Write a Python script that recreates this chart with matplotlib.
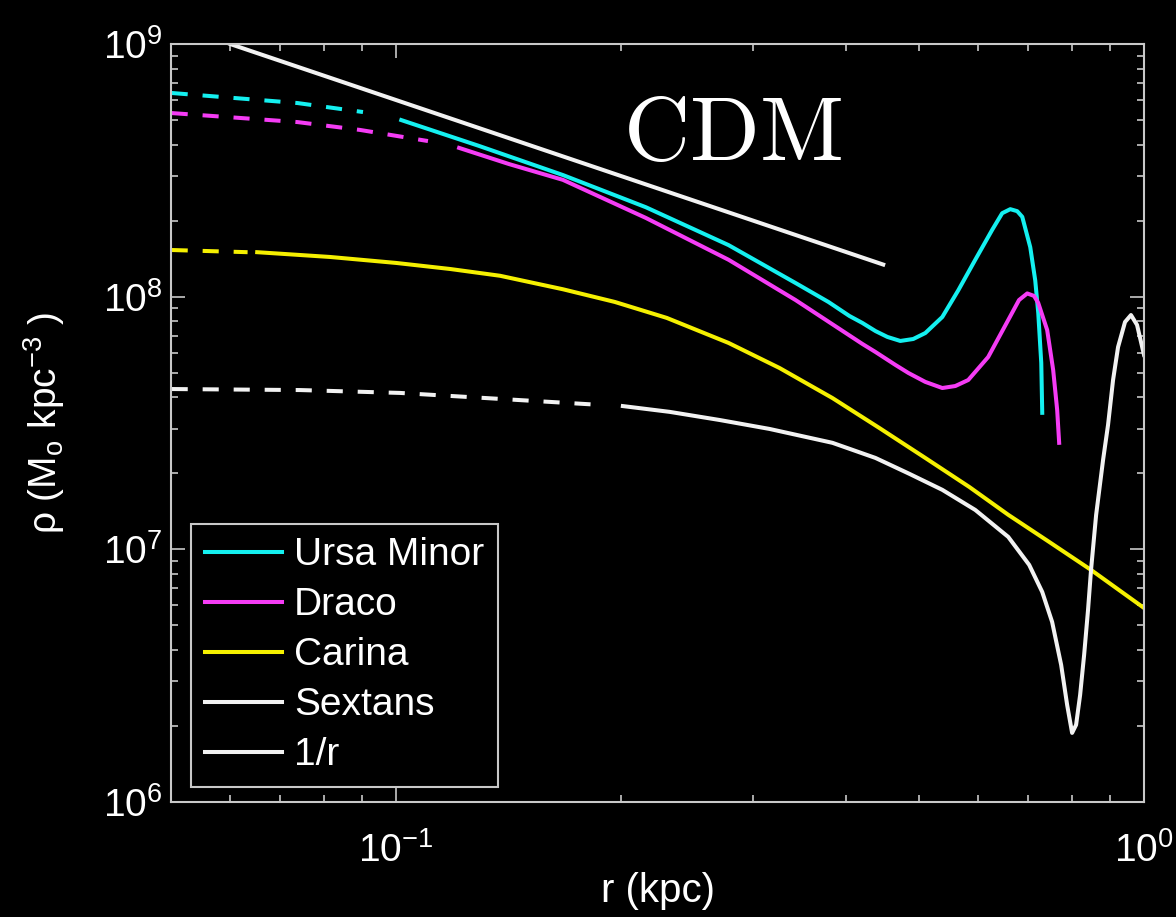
import matplotlib.pyplot as plt
from matplotlib.ticker import NullFormatter

plt.rcParams['font.family'] = ['Liberation Sans', 'DejaVu Sans']
plt.rcParams['mathtext.fontset'] = 'custom'
plt.rcParams['mathtext.rm'] = 'Liberation Sans'
plt.rcParams['mathtext.it'] = 'Liberation Sans:italic'
plt.rcParams['mathtext.default'] = 'regular'

# Ursa Minor (dashed inner part, solid outer part)
umi_r_dash = [0.0501, 0.0738, 0.0903]
umi_rho_dash = [6.40e8, 5.84e8, 5.38e8]
umi_r = [0.1016, 0.1291, 0.1671, 0.2157, 0.2783, 0.3420, 0.3785, 0.4037, 0.4202,
         0.4375, 0.4538, 0.4722, 0.4914, 0.5100, 0.5374, 0.5645, 0.5948, 0.6267,
         0.6462, 0.6625, 0.6768, 0.6874, 0.7045, 0.7154, 0.7221, 0.7288, 0.7310]
umi_rho = [5.00e8, 3.95e8, 3.03e8, 2.26e8, 1.60e8, 1.133e8, 9.53e7, 8.39e7, 7.87e7,
           7.31e7, 6.93e7, 6.68e7, 6.80e7, 7.18e7, 8.31e7, 1.06e8, 1.40e8, 1.84e8,
           2.14e8, 2.22e8, 2.18e8, 2.07e8, 1.57e8, 1.16e8, 8.62e7, 5.47e7, 3.47e7]

# Draco
dra_r_dash = [0.0501, 0.0738, 0.0895, 0.1103]
dra_rho_dash = [5.33e8, 4.91e8, 4.57e8, 4.13e8]
dra_r = [0.1214, 0.1415, 0.1671, 0.2157, 0.2783, 0.3420, 0.4202, 0.4375, 0.4651,
         0.4841, 0.5100, 0.5374, 0.5594, 0.5821, 0.6189, 0.6584, 0.6806, 0.6980,
         0.7128, 0.7221, 0.7422, 0.7560, 0.7654, 0.7701]
dra_rho = [3.88e8, 3.35e8, 2.90e8, 2.05e8, 1.40e8, 9.70e7, 6.50e7, 6.04e7, 5.37e7,
           4.99e7, 4.60e7, 4.35e7, 4.43e7, 4.68e7, 5.77e7, 8.09e7, 9.70e7, 1.03e8,
           1.007e8, 9.44e7, 7.38e7, 5.13e7, 3.56e7, 2.64e7]

# Carina
car_r_dash = [0.0501, 0.0633]
car_rho_dash = [1.53e8, 1.50e8]
car_r = [0.0652, 0.0816, 0.1000, 0.1181, 0.1377, 0.1671, 0.1961, 0.2301, 0.2783,
         0.3256, 0.3832, 0.4429, 0.5100, 0.5841, 0.6584, 0.7468, 0.8495, 1.0]
car_rho = [1.50e8, 1.436e8, 1.36e8, 1.287e8, 1.21e8, 1.07e8, 9.53e7, 8.24e7, 6.56e7,
           5.22e7, 3.97e7, 3.02e7, 2.30e7, 1.765e7, 1.37e7, 1.07e7, 8.29e6, 5.86e6]

# Sextans
sex_r_dash = [0.0501, 0.0744, 0.1012, 0.1873]
sex_rho_dash = [4.31e7, 4.27e7, 4.16e7, 3.73e7]
sex_r = [0.2010, 0.2322, 0.2708, 0.3157, 0.3832, 0.4375, 0.4856, 0.5374, 0.5948,
         0.6584, 0.7022, 0.7310, 0.7536, 0.7748, 0.7893, 0.8014, 0.8113, 0.8214,
         0.8316, 0.8417, 0.8495, 0.8629, 0.8816, 0.8952, 0.9091, 0.9232, 0.9432,
         0.9607, 0.9788, 1.0]
sex_rho = [3.69e7, 3.50e7, 3.25e7, 2.996e7, 2.64e7, 2.30e7, 1.99e7, 1.72e7, 1.432e7,
           1.12e7, 8.68e6, 6.78e6, 5.16e6, 3.49e6, 2.42e6, 1.877e6, 2.02e6, 2.65e6,
           3.82e6, 5.76e6, 8.29e6, 1.368e7, 2.26e7, 3.11e7, 4.68e7, 6.32e7, 7.94e7,
           8.46e7, 7.73e7, 5.88e7]

# 1/r reference line
inv_r = [0.06, 0.448]
inv_rho = [1.0e9, 1.34e8]

cyan = '#14f0f0'
magenta = '#f53cf5'
yellow = '#f5f000'
white = '#f2f2f2'
lw = 2.9
dash = (0, (4, 3.7))

fig = plt.figure(figsize=(11.76, 9.17), dpi=100, facecolor='black')
ax = fig.add_axes([0.1454, 0.1254, 0.8274, 0.8266], facecolor='black')

ax.plot(umi_r_dash, umi_rho_dash, color=cyan, lw=lw, linestyle=dash)
ax.plot(dra_r_dash, dra_rho_dash, color=magenta, lw=lw, linestyle=dash)
ax.plot(car_r_dash, car_rho_dash, color=yellow, lw=lw, linestyle=dash)
ax.plot(sex_r_dash, sex_rho_dash, color=white, lw=lw, linestyle=dash)

ax.plot(umi_r, umi_rho, color=cyan, lw=lw, label='Ursa Minor')
ax.plot(dra_r, dra_rho, color=magenta, lw=lw, label='Draco')
ax.plot(car_r, car_rho, color=yellow, lw=lw, label='Carina')
ax.plot(sex_r, sex_rho, color=white, lw=lw, label='Sextans')
ax.plot(inv_r, inv_rho, color=white, lw=lw, label='1/r')

ax.set_xscale('log')
ax.set_yscale('log')
ax.set_xlim(0.05, 1.0)
ax.set_ylim(1e6, 1e9)
ax.xaxis.set_minor_formatter(NullFormatter())
ax.yaxis.set_minor_formatter(NullFormatter())

edge = '#c8c8c8'
for s in ax.spines.values():
    s.set_color(edge)
    s.set_linewidth(1.5)
ax.tick_params(which='both', direction='in', top=True, right=True, color=edge,
               width=1.2, labelcolor='white', labelsize=28)
ax.tick_params(which='major', length=10)
ax.tick_params(which='minor', length=5)
ax.tick_params(axis='y', pad=6)
ax.tick_params(axis='x', pad=22)

ax.set_xlabel('r (kpc)', color='white', fontsize=29)
ax.xaxis.set_label_coords(0.5, -0.092)
ax.set_ylabel('ρ (M$_\\mathregular{o}$ kpc$^{-3}$ )', color='white', fontsize=28)
ax.yaxis.set_label_coords(-0.107, 0.5)

ax.text(0.4645, 0.847, r'$\mathrm{CDM}$', transform=ax.transAxes, color='white',
        fontsize=66, math_fontfamily='cm', ha='left', va='baseline')

leg = ax.legend(loc='lower left', bbox_to_anchor=(0.0206, 0.0198), borderaxespad=0,
                fontsize=28, frameon=True, fancybox=False, handlelength=2.0,
                handletextpad=0.3, borderpad=0.35, labelspacing=0.36)
leg.get_frame().set_facecolor('black')
leg.get_frame().set_edgecolor(edge)
leg.get_frame().set_linewidth(1.5)
leg.get_frame().set_alpha(1)
for t in leg.get_texts():
    t.set_color('white')

fig.savefig('out.png', dpi=100, facecolor='black')
